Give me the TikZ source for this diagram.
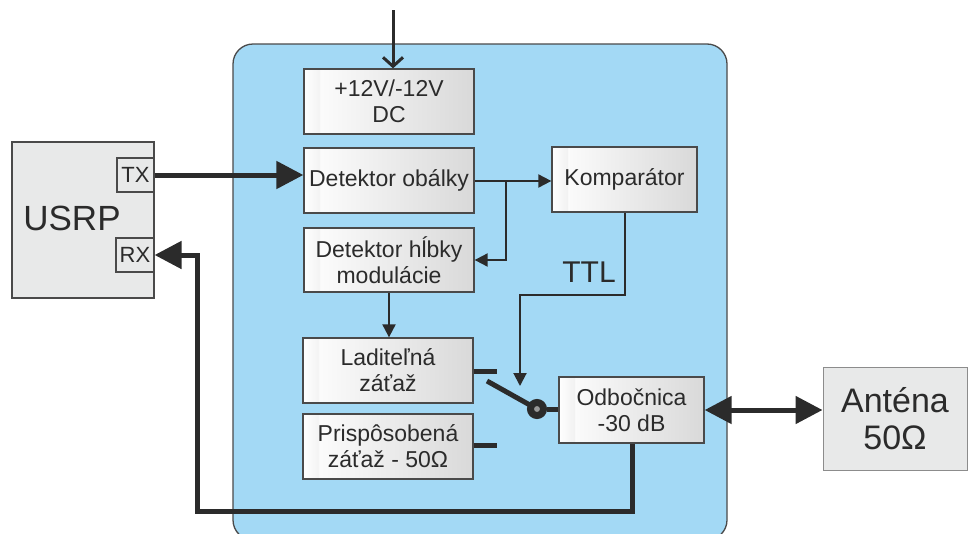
\documentclass[tikz,border=0pt]{standalone}
\usepackage{fontspec}
\setmainfont{Liberation Sans}
\usetikzlibrary{arrows.meta,calc}

\definecolor{ink}{HTML}{2B2B2B}
\definecolor{panel}{HTML}{A3D9F5}
\definecolor{devfill}{HTML}{E8E9E9}
\definecolor{frame}{HTML}{4A4A4A}

\tikzset{
  % inner blocks: white body fading to pale grey, with a dark rim on the left
  % (the rim strip is drawn in the picture's flipped y frame, so its colours run mirrored)
  block/.style={draw=frame, line width=1.3pt, left color=white, right color=black!15,
    path picture={\fill[left color=white, right color=black!50]
      (path picture bounding box.south west) rectangle
      ([xshift=16pt]path picture bounding box.north west);},
    minimum width=170pt, minimum height=65pt, inner sep=0pt, align=center,
    text=ink, font=\fontsize{23}{26}\selectfont},
  device/.style={draw=frame, line width=1.2pt, fill=devfill, inner sep=0pt,
    align=center, text=ink},
  port/.style={device, font=\fontsize{22}{24}\selectfont},
  thin/.style={draw=ink, line width=2pt, -{Triangle[length=13pt,width=13pt]}},
  thick/.style={draw=ink, line width=5pt},
  bigtip/.style={thick, -{Triangle[length=27pt,width=27pt]}},
}

\begin{document}
\begin{tikzpicture}[x=1pt, y=-1pt]
\useasboundingbox (0,0) rectangle (968,533);

% blue enclosure of the module
\draw[draw=frame, line width=1.3pt, fill=panel, rounded corners=20pt]
  (233,44) rectangle (727,540);

% external devices
\node[device, minimum width=142pt, minimum height=156pt] (usrp) at (83,220) {};
\node[text=ink, font=\fontsize{35}{37}\selectfont] (usrplabel) at (72,218) {USRP};
\node[port, minimum width=37pt, minimum height=34pt] (tx) at (135.5,175) {TX};
\node[port, minimum width=38pt, minimum height=34pt] (rx) at (135,255) {RX};
\node[device, draw=black!45, line width=1pt, minimum width=144pt, minimum height=103pt,
  font=\fontsize{34}{37}\selectfont] (ant) at (895,418.5) {Anténa\\50Ω};

% inner blocks
\node[block] (dc) at (389,101.5) {+12V/-12V\\DC};
\node[block] (detob) at (389,180.5) {Detektor obálky};
\node[block, minimum width=145pt] (komp) at (624.5,179.5) {Komparátor};
\node[block, minimum height=64pt] (dethl) at (389,260) {Detektor hĺbky\\modulácie};
\node[block] (ladit) at (388,370.5) {Laditeľná\\záťaž};
\node[block] (prisp) at (388,446.5) {Prispôsobená\\záťaž - 50Ω};
\node[block, minimum width=145pt, minimum height=66pt] (odb) at (631.5,410) {Odbočnica\\-30 dB};

\node[text=ink, font=\fontsize{30}{32}\selectfont] (ttl) at (589,272) {TTL};

% supply input
\coordinate (pwr) at (393,10);
\draw[draw=ink, line width=3pt, -{Straight Barb[length=9pt,width=20pt]}]
  (pwr) -- (pwr |- dc.north);

% transmit path
\draw[bigtip] (tx.east) -- (tx.east -| detob.west);

% envelope detector outputs
\coordinate (split) at (506,181);
\draw[thin] (detob.east |- split) -- (split -| komp.west);
\draw[thin] (split) |- (dethl.east);
\draw[thin] (dethl.south) -- (dethl.south |- ladit.north);

% comparator control line to the switch
\coordinate (ttlbend) at (520,295);
\coordinate (ttlend) at (520,386);
\draw[thin] (komp.south) |- (ttlbend) -- (ttlend);

% RF switch
\coordinate (swA) at (497,371);
\coordinate (swB) at (497,445);
\coordinate (blade) at (487,381);
\draw[thick, draw=ink] (ladit.east |- swA) -- (swA);
\draw[thick, draw=ink] (prisp.east |- swB) -- (swB);
\draw[thick, draw=ink] (blade) -- (537,409);
\node[circle, draw=ink, line width=7pt, fill=black!40, minimum size=13pt, inner sep=0pt]
  (pivot) at (537,409) {};
\draw[thick, draw=ink] (pivot) -- (pivot -| odb.west);

% antenna link
\draw[thick, {Triangle[length=27pt,width=27pt]}-{Triangle[length=27pt,width=27pt]}]
  (odb.east) -- (odb.east -| ant.west);

% coupled output back to the receiver
\coordinate (fbcorner) at (197,511);
\draw[bigtip, line join=miter] ($(odb.south)+(0.5,0)$) |- (fbcorner) |- (rx.east);
\end{tikzpicture}
\end{document}
